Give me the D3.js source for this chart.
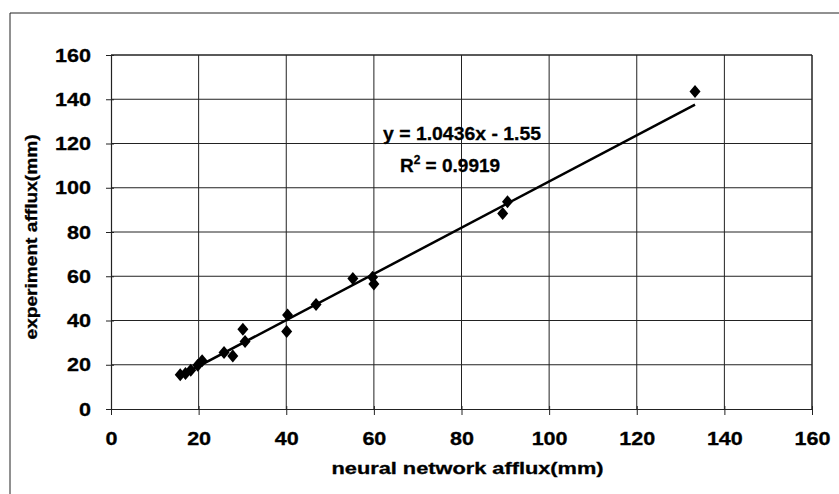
<!DOCTYPE html>
<html>
<head>
<meta charset="utf-8">
<script src="https://cdn.jsdelivr.net/npm/d3@7"></script>
<style>
  html, body { margin: 0; padding: 0; background: #fff; }
  svg { display: block; }
  text { font-family: "Liberation Sans", Arial, sans-serif; font-weight: bold; fill: #000; }
</style>
</head>
<body>
<svg id="chart" width="839" height="494"></svg>
<script>
// ---- data ----
const neuralAfflux = [15.8, 17.0, 18.2, 19.8, 20.8, 25.8, 27.8, 30.1, 30.6, 40.1, 40.3, 46.8, 55.2, 59.7, 60.0, 89.4, 90.5, 133.3];
const experimentAfflux = [15.5, 16.0, 17.5, 19.8, 21.8, 25.5, 24.0, 36.0, 30.5, 35.0, 42.5, 47.2, 59.0, 59.5, 56.5, 88.4, 93.7, 143.5];
const xTicks = [0, 20, 40, 60, 80, 100, 120, 140, 160];
const yTicks = [0, 20, 40, 60, 80, 100, 120, 140, 160];
const trendSlope = 1.0436;
const trendIntercept = -1.55;
const rSquared = 0.9919;
const xTitle = "neural network afflux(mm)";
const yTitle = "experiment afflux(mm)";

// ---- layout ----
const svg = d3.select("#chart");
const mLeft = 111, mRight = 812, mTop = 55, mBottom = 409;

const x = d3.scaleLinear().domain([0, 160]).range([mLeft, mRight]);
const y = d3.scaleLinear().domain([0, 160]).range([mBottom, mTop]);

// outer chart border
svg.append("path")
  .attr("d", "M10,494 L10,13 L839,13")
  .attr("fill", "none").attr("stroke", "#222").attr("stroke-width", 1);

// gridlines
svg.append("g").selectAll("line").data(xTicks.slice(1)).join("line")
  .attr("x1", d => x(d)).attr("x2", d => x(d))
  .attr("y1", mTop).attr("y2", mBottom)
  .attr("stroke", "#222").attr("stroke-width", 1);
svg.append("g").selectAll("line").data(yTicks.slice(1)).join("line")
  .attr("x1", mLeft).attr("x2", mRight)
  .attr("y1", d => y(d)).attr("y2", d => y(d))
  .attr("stroke", "#222").attr("stroke-width", 1);

// axes
const xAxis = svg.append("g").attr("transform", `translate(0,${mBottom})`)
  .call(d3.axisBottom(x).tickValues(xTicks).tickSize(6).tickPadding(17).tickSizeOuter(0));
const yAxis = svg.append("g").attr("transform", `translate(${mLeft},0)`)
  .call(d3.axisLeft(y).tickValues(yTicks).tickSize(6).tickPadding(14).tickSizeOuter(0));

[xAxis, yAxis].forEach(g => {
  g.select(".domain").attr("stroke", "#222").attr("stroke-width", 1.2);
  g.selectAll(".tick line").attr("stroke", "#222");
  g.selectAll(".tick text")
    .attr("font-family", "Liberation Sans, Arial, sans-serif")
    .attr("font-weight", "bold")
    .attr("font-size", 19)
    .attr("fill", "#000")
    .attr("stroke", "#000").attr("stroke-width", 0.3)
    .attr("lengthAdjust", "spacingAndGlyphs")
    .attr("textLength", d => String(d).length * 12);
});
// crossing ticks
xAxis.selectAll(".tick line").attr("y1", -3);
yAxis.selectAll(".tick line").attr("x1", 3).attr("x2", -5);

// right & top plot border
svg.append("path")
  .attr("d", `M${mLeft},${mTop} L${mRight},${mTop} L${mRight},${mBottom}`)
  .attr("fill", "none").attr("stroke", "#222").attr("stroke-width", 1);

// trendline
const xMin = d3.min(neuralAfflux), xMax = d3.max(neuralAfflux);
svg.append("line")
  .attr("x1", x(xMin)).attr("y1", y(trendSlope * xMin + trendIntercept))
  .attr("x2", x(xMax)).attr("y2", y(trendSlope * xMax + trendIntercept))
  .attr("stroke", "#000").attr("stroke-width", 2.5);

// points (diamonds)
svg.append("g").selectAll("path").data(neuralAfflux).join("path")
  .attr("transform", (d, i) => `translate(${x(d)},${y(experimentAfflux[i])})`)
  .attr("d", "M0,-6.5L5.5,0L0,6.5L-5.5,0Z")
  .attr("fill", "#000");

// trend label
svg.append("text")
  .attr("x", 462).attr("y", 140).attr("text-anchor", "middle")
  .attr("font-size", 19)
  .attr("stroke", "#000").attr("stroke-width", 0.3)
  .attr("lengthAdjust", "spacingAndGlyphs").attr("textLength", 158)
  .text(`y = ${trendSlope}x - ${Math.abs(trendIntercept)}`);
const r2 = svg.append("text")
  .attr("x", 450).attr("y", 172).attr("text-anchor", "middle")
  .attr("stroke", "#000").attr("stroke-width", 0.3)
  .attr("font-size", 19);
r2.append("tspan").text("R");
r2.append("tspan").attr("font-size", 12).attr("dy", -8).text("2");
r2.append("tspan").attr("dy", 8).text(` = ${rSquared}`);

// axis titles
svg.append("text")
  .attr("x", (mLeft + mRight) / 2 + 6).attr("y", 474).attr("text-anchor", "middle")
  .attr("font-size", 16)
  .attr("stroke", "#000").attr("stroke-width", 0.3)
  .attr("lengthAdjust", "spacingAndGlyphs").attr("textLength", 272)
  .text(xTitle);
svg.append("text")
  .attr("transform", `translate(37,${(mTop + mBottom) / 2 + 5}) rotate(-90)`)
  .attr("text-anchor", "middle")
  .attr("font-size", 16)
  .attr("stroke", "#000").attr("stroke-width", 0.3)
  .attr("lengthAdjust", "spacingAndGlyphs").attr("textLength", 205)
  .text(yTitle);
</script>
</body>
</html>
